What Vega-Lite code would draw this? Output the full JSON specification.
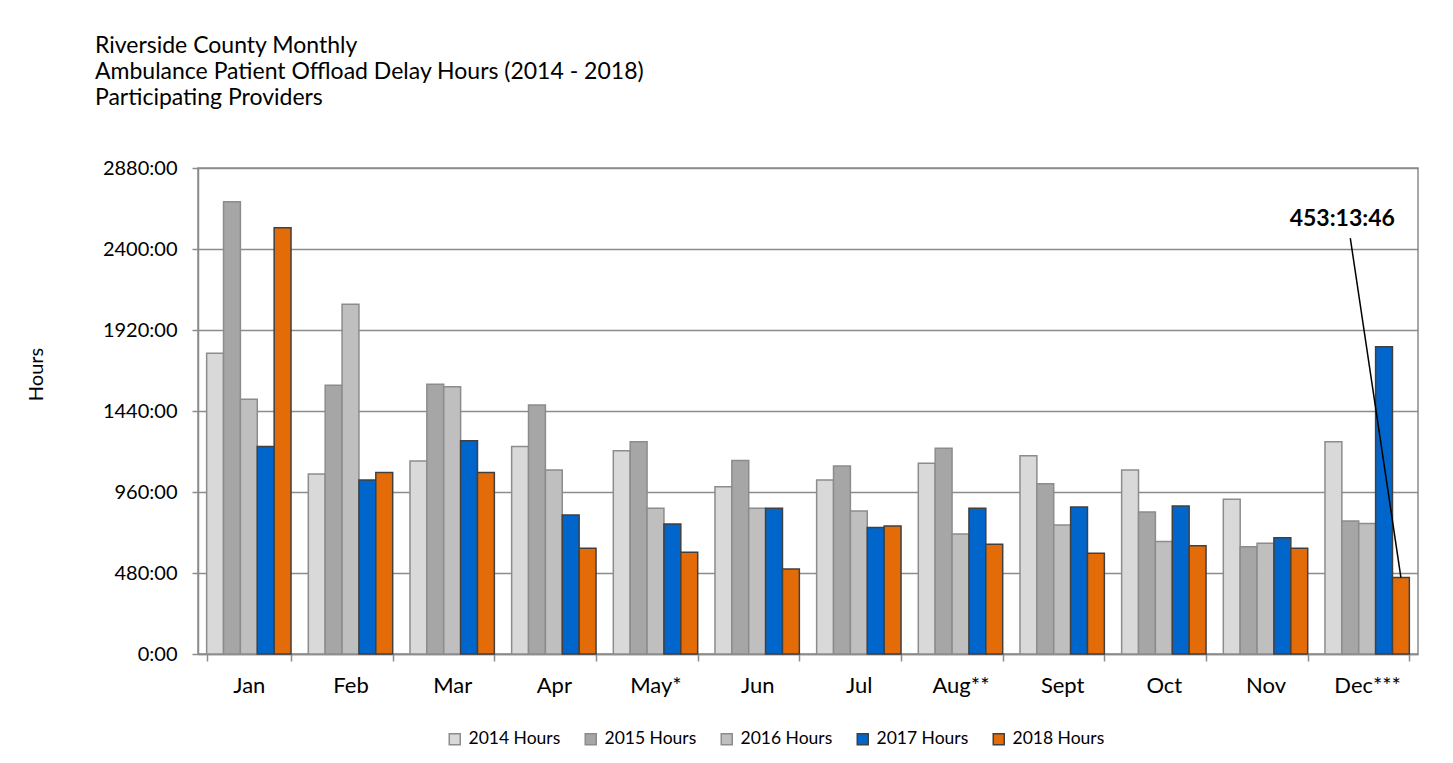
{
  "$schema": "https://vega.github.io/schema/vega-lite/v6.json",
  "width": 1220,
  "height": 486,
  "autosize": "none",
  "padding": {"left": 198, "top": 168, "right": 35, "bottom": 109},
  "background": "white",
  "config": {
    "font": "Lato",
    "view": {"stroke": "#8c8c8c", "strokeWidth": 1.5}
  },
  "title": {
    "text": ["Riverside County Monthly", "Ambulance Patient Offload Delay Hours (2014 - 2018)", "Participating Providers"],
    "anchor": "start",
    "frame": "group",
    "dx": -103,
    "offset": 48,
    "fontSize": 23,
    "fontWeight": "normal",
    "lineHeight": 26,
    "color": "#000000"
  },
  "data": {
    "values": [
      {"month": "Jan", "year": "2014 Hours", "v": 1782},
      {"month": "Jan", "year": "2015 Hours", "v": 2680},
      {"month": "Jan", "year": "2016 Hours", "v": 1509},
      {"month": "Jan", "year": "2017 Hours", "v": 1229},
      {"month": "Jan", "year": "2018 Hours", "v": 2526},
      {"month": "Feb", "year": "2014 Hours", "v": 1067},
      {"month": "Feb", "year": "2015 Hours", "v": 1592},
      {"month": "Feb", "year": "2016 Hours", "v": 2072},
      {"month": "Feb", "year": "2017 Hours", "v": 1031},
      {"month": "Feb", "year": "2018 Hours", "v": 1075},
      {"month": "Mar", "year": "2014 Hours", "v": 1144},
      {"month": "Mar", "year": "2015 Hours", "v": 1598},
      {"month": "Mar", "year": "2016 Hours", "v": 1584},
      {"month": "Mar", "year": "2017 Hours", "v": 1264},
      {"month": "Mar", "year": "2018 Hours", "v": 1075},
      {"month": "Apr", "year": "2014 Hours", "v": 1229},
      {"month": "Apr", "year": "2015 Hours", "v": 1476},
      {"month": "Apr", "year": "2016 Hours", "v": 1090},
      {"month": "Apr", "year": "2017 Hours", "v": 824},
      {"month": "Apr", "year": "2018 Hours", "v": 626},
      {"month": "May*", "year": "2014 Hours", "v": 1205},
      {"month": "May*", "year": "2015 Hours", "v": 1258},
      {"month": "May*", "year": "2016 Hours", "v": 863},
      {"month": "May*", "year": "2017 Hours", "v": 770},
      {"month": "May*", "year": "2018 Hours", "v": 603},
      {"month": "Jun", "year": "2014 Hours", "v": 991},
      {"month": "Jun", "year": "2015 Hours", "v": 1146},
      {"month": "Jun", "year": "2016 Hours", "v": 863},
      {"month": "Jun", "year": "2017 Hours", "v": 863},
      {"month": "Jun", "year": "2018 Hours", "v": 504},
      {"month": "Jul", "year": "2014 Hours", "v": 1031},
      {"month": "Jul", "year": "2015 Hours", "v": 1114},
      {"month": "Jul", "year": "2016 Hours", "v": 847},
      {"month": "Jul", "year": "2017 Hours", "v": 749},
      {"month": "Jul", "year": "2018 Hours", "v": 758},
      {"month": "Aug**", "year": "2014 Hours", "v": 1130},
      {"month": "Aug**", "year": "2015 Hours", "v": 1219},
      {"month": "Aug**", "year": "2016 Hours", "v": 711},
      {"month": "Aug**", "year": "2017 Hours", "v": 863},
      {"month": "Aug**", "year": "2018 Hours", "v": 650},
      {"month": "Sept", "year": "2014 Hours", "v": 1175},
      {"month": "Sept", "year": "2015 Hours", "v": 1009},
      {"month": "Sept", "year": "2016 Hours", "v": 764},
      {"month": "Sept", "year": "2017 Hours", "v": 871},
      {"month": "Sept", "year": "2018 Hours", "v": 597},
      {"month": "Oct", "year": "2014 Hours", "v": 1090},
      {"month": "Oct", "year": "2015 Hours", "v": 841},
      {"month": "Oct", "year": "2016 Hours", "v": 666},
      {"month": "Oct", "year": "2017 Hours", "v": 877},
      {"month": "Oct", "year": "2018 Hours", "v": 642},
      {"month": "Nov", "year": "2014 Hours", "v": 917},
      {"month": "Nov", "year": "2015 Hours", "v": 636},
      {"month": "Nov", "year": "2016 Hours", "v": 656},
      {"month": "Nov", "year": "2017 Hours", "v": 689},
      {"month": "Nov", "year": "2018 Hours", "v": 626},
      {"month": "Dec***", "year": "2014 Hours", "v": 1258},
      {"month": "Dec***", "year": "2015 Hours", "v": 788},
      {"month": "Dec***", "year": "2016 Hours", "v": 774},
      {"month": "Dec***", "year": "2017 Hours", "v": 1821},
      {"month": "Dec***", "year": "2018 Hours", "v": 453.23}
    ]
  },
  "encoding": {
    "x": {
      "field": "month",
      "type": "nominal",
      "sort": ["Jan", "Feb", "Mar", "Apr", "May*", "Jun", "Jul", "Aug**", "Sept", "Oct", "Nov", "Dec***"],
      "scale": {"paddingInner": 0.17, "paddingOuter": 0.085},
      "axis": {
        "title": null,
        "labelAngle": 0,
        "labelFontSize": 22,
        "labelColor": "#000000",
        "labelPadding": 14,
        "tickBand": "extent",
        "tickSize": 7,
        "tickColor": "#8c8c8c",
        "tickWidth": 1.5,
        "domainColor": "#8c8c8c",
        "domainWidth": 1.5
      }
    },
    "xOffset": {
      "field": "year",
      "type": "nominal",
      "scale": {"paddingInner": 0, "paddingOuter": 0}
    },
    "y": {
      "field": "v",
      "type": "quantitative",
      "scale": {"domain": [0, 2880], "nice": false},
      "axis": {
        "values": [0, 480, 960, 1440, 1920, 2400, 2880],
        "labelExpr": "datum.value + ':00'",
        "title": "Hours",
        "grid": true,
        "gridColor": "#8c8c8c",
        "gridWidth": 1.5,
        "domainColor": "#8c8c8c",
        "domainWidth": 1.5,
        "tickColor": "#8c8c8c",
        "tickSize": 6,
        "tickWidth": 1.5,
        "labelFontSize": 20,
        "labelColor": "#000000",
        "labelPadding": 15,
        "titleFontSize": 20,
        "titleFontWeight": "normal",
        "titleColor": "#000000",
        "titleX": -152,
        "titleY": 206,
        "titleAngle": -90
      }
    }
  },
  "layer": [
    {
      "mark": {"type": "bar", "strokeWidth": 1.5},
      "encoding": {
        "fill": {
          "field": "year",
          "type": "nominal",
          "scale": {
            "domain": ["2014 Hours", "2015 Hours", "2016 Hours", "2017 Hours", "2018 Hours"],
            "range": ["#d9d9d9", "#a6a6a6", "#bfbfbf", "#0066cc", "#e36c09"]
          },
          "legend": {
            "orient": "none",
            "legendX": 248,
            "legendY": 562,
            "direction": "horizontal",
            "title": null,
            "symbolType": "square",
            "symbolSize": 121,
            "symbolStrokeWidth": 1.5,
            "labelFontSize": 17.5,
            "labelColor": "#000000",
            "columnPadding": 21,
            "labelOffset": 5
          }
        },
        "stroke": {
          "field": "year",
          "type": "nominal",
          "scale": {
            "domain": ["2014 Hours", "2015 Hours", "2016 Hours", "2017 Hours", "2018 Hours"],
            "range": ["#8c8c8c", "#8c8c8c", "#8c8c8c", "#404040", "#404040"]
          },
          "legend": {
            "orient": "none",
            "legendX": 248,
            "legendY": 562,
            "direction": "horizontal",
            "title": null,
            "symbolType": "square",
            "symbolSize": 121,
            "symbolStrokeWidth": 1.5,
            "labelFontSize": 17.5,
            "labelColor": "#000000",
            "columnPadding": 21,
            "labelOffset": 5
          }
        }
      }
    },
    {
      "data": {"values": [
        {"month": "Dec***", "year": "2015 Hours", "v": 2465},
        {"month": "Dec***", "year": "2018 Hours", "v": 453.23}
      ]},
      "mark": {"type": "line", "color": "#000000", "strokeWidth": 1.5},
      "encoding": {}
    },
    {
      "data": {"values": [
        {"month": "Dec***", "year": "2015 Hours", "v": 2578, "label": "453:13:46"}
      ]},
      "mark": {"type": "text", "fontSize": 23, "fontWeight": "bold", "color": "#000000", "dx": -8},
      "encoding": {"text": {"field": "label"}}
    }
  ]
}
